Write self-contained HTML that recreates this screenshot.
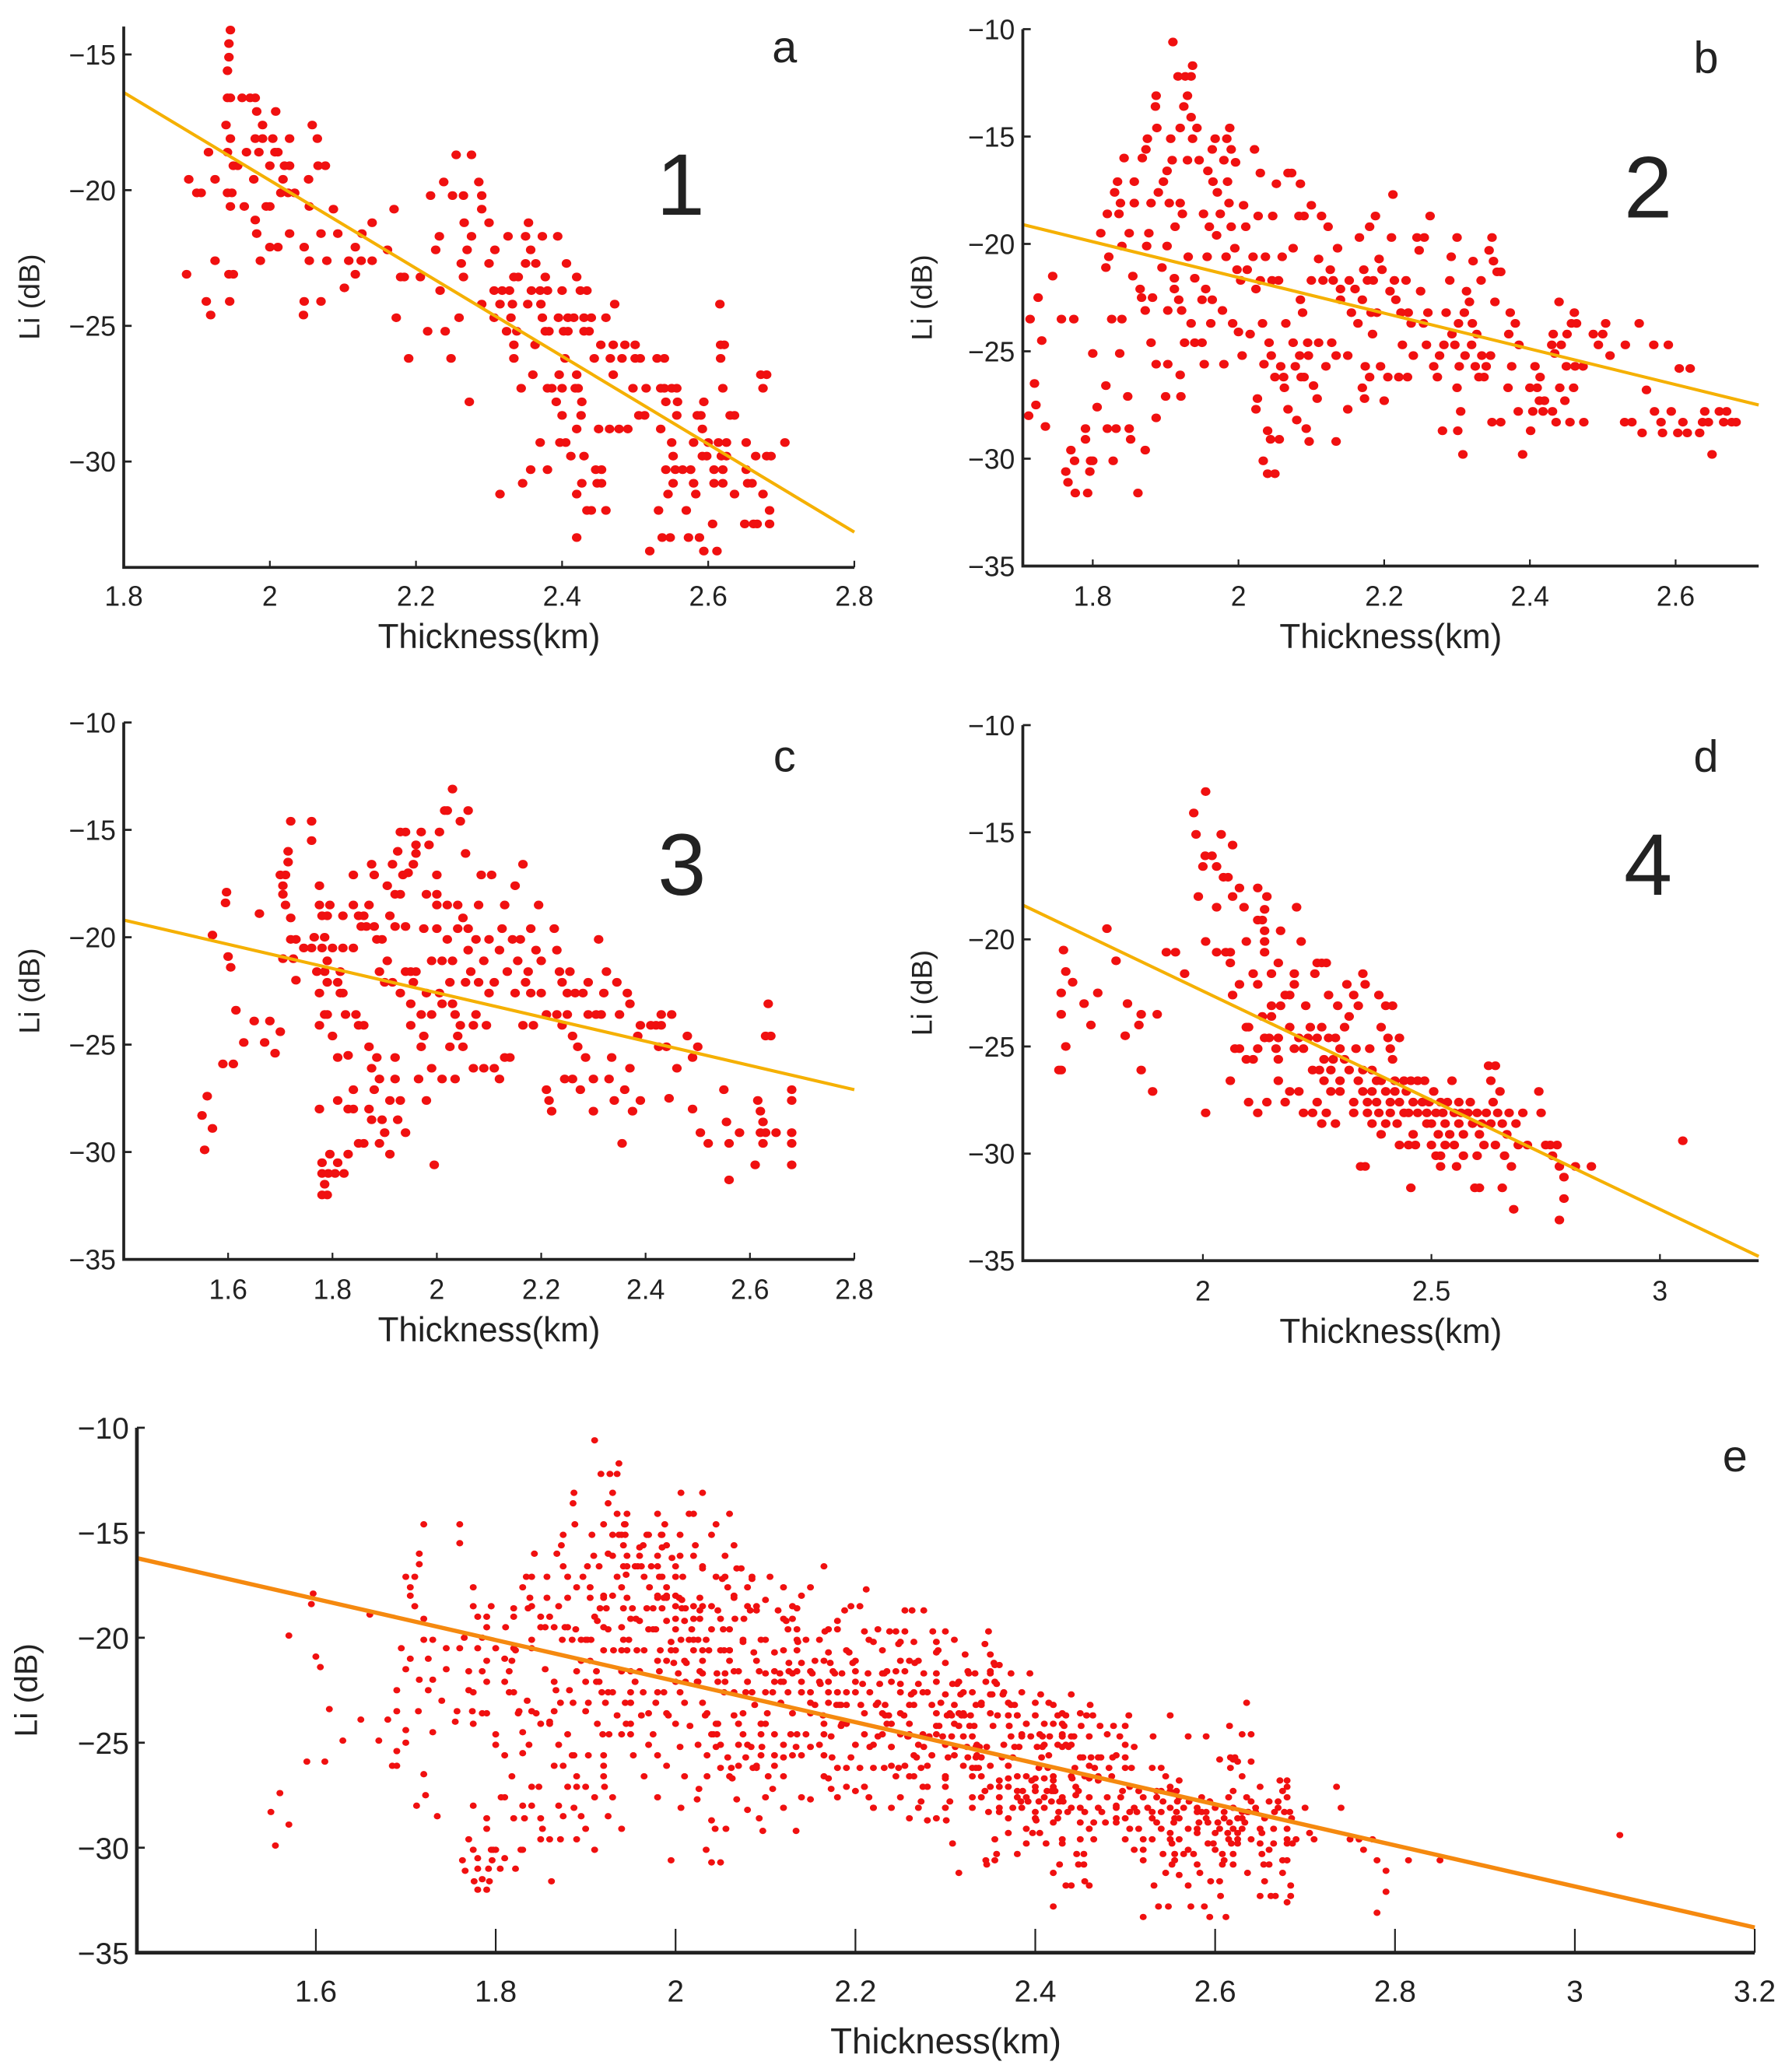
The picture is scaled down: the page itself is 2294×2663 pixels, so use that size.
<!DOCTYPE html>
<html><head><meta charset="utf-8"><style>
html,body{margin:0;padding:0;background:#fff}
svg{display:block}
text{font-family:"Liberation Sans",sans-serif;fill:#222}
</style></head><body>
<svg id="fig" width="2294" height="2663" viewBox="0 0 1356 1563" preserveAspectRatio="none" xmlns="http://www.w3.org/2000/svg"></svg>
<script>
const aPts=[[1.886,-23.1],[1.889,-19.6],[1.9,-20.1],[1.906,-20.1],[1.913,-24.1],[1.919,-24.6],[1.916,-18.6],[1.925,-19.6],[1.925,-22.6],[1.94,-17.6],[1.942,-16.6],[1.942,-15.6],[1.944,-15.1],[1.944,-14.6],[1.946,-14.1],[1.946,-16.6],[1.946,-18.1],[1.942,-18.6],[1.942,-20.1],[1.946,-20.6],[1.948,-20.1],[1.944,-23.1],[1.95,-23.1],[1.945,-24.1],[1.95,-19.1],[1.956,-19.1],[1.962,-16.6],[1.965,-20.6],[1.968,-18.6],[1.973,-16.6],[1.978,-19.6],[1.98,-16.6],[1.98,-21.1],[1.98,-18.1],[1.982,-17.1],[1.982,-21.6],[1.985,-18.6],[1.987,-22.6],[1.99,-17.6],[1.99,-18.1],[1.995,-20.6],[2.0,-22.1],[2.0,-20.6],[2.0,-19.1],[2.004,-18.1],[2.007,-18.6],[2.008,-17.1],[2.011,-18.6],[2.011,-22.1],[2.015,-20.1],[2.018,-19.6],[2.02,-19.1],[2.025,-20.1],[2.027,-19.1],[2.027,-18.1],[2.027,-21.6],[2.034,-20.1],[2.047,-22.1],[2.047,-24.1],[2.046,-24.6],[2.053,-19.6],[2.054,-20.6],[2.054,-22.6],[2.058,-17.6],[2.065,-18.1],[2.066,-19.1],[2.07,-21.6],[2.07,-24.1],[2.076,-19.1],[2.078,-22.6],[2.087,-20.7],[2.093,-21.6],[2.102,-23.6],[2.108,-22.6],[2.117,-22.1],[2.117,-23.1],[2.125,-22.6],[2.126,-21.6],[2.14,-22.6],[2.14,-21.2],[2.161,-22.2],[2.17,-20.7],[2.173,-24.7],[2.179,-23.2],[2.184,-23.2],[2.19,-26.2],[2.206,-23.2],[2.216,-25.2],[2.22,-20.2],[2.227,-22.2],[2.232,-21.7],[2.233,-23.7],[2.238,-19.7],[2.24,-25.2],[2.248,-26.2],[2.25,-20.2],[2.255,-18.7],[2.259,-24.7],[2.262,-22.7],[2.265,-20.2],[2.265,-23.2],[2.266,-21.2],[2.27,-22.2],[2.273,-27.8],[2.276,-21.7],[2.276,-18.7],[2.286,-19.7],[2.29,-20.2],[2.29,-20.7],[2.29,-24.2],[2.3,-21.2],[2.3,-22.7],[2.307,-23.7],[2.307,-24.7],[2.308,-22.2],[2.315,-31.2],[2.315,-24.2],[2.318,-23.7],[2.324,-25.2],[2.326,-21.7],[2.328,-23.7],[2.33,-24.7],[2.332,-24.2],[2.334,-23.2],[2.334,-25.7],[2.334,-26.2],[2.338,-25.2],[2.34,-23.2],[2.344,-27.3],[2.346,-30.8],[2.35,-22.7],[2.35,-21.7],[2.353,-24.2],[2.354,-21.2],[2.357,-30.3],[2.357,-22.2],[2.358,-23.7],[2.36,-26.8],[2.363,-25.7],[2.364,-22.7],[2.37,-29.3],[2.37,-23.7],[2.371,-24.2],[2.373,-21.7],[2.373,-24.7],[2.377,-23.2],[2.377,-25.2],[2.38,-27.3],[2.38,-30.3],[2.38,-23.7],[2.382,-25.2],[2.386,-27.3],[2.392,-27.8],[2.394,-21.7],[2.395,-24.7],[2.396,-26.8],[2.397,-29.3],[2.4,-23.7],[2.4,-27.3],[2.4,-28.3],[2.402,-25.2],[2.404,-26.2],[2.405,-29.3],[2.406,-22.7],[2.408,-24.7],[2.408,-25.2],[2.412,-29.8],[2.416,-24.7],[2.418,-27.3],[2.42,-26.8],[2.42,-32.8],[2.42,-23.2],[2.42,-31.2],[2.42,-28.8],[2.422,-27.3],[2.425,-23.7],[2.426,-28.3],[2.427,-27.8],[2.427,-30.8],[2.43,-24.7],[2.43,-25.2],[2.43,-29.8],[2.434,-23.7],[2.434,-31.8],[2.437,-25.2],[2.44,-31.8],[2.44,-24.7],[2.444,-26.2],[2.446,-30.3],[2.448,-30.8],[2.45,-28.8],[2.453,-25.7],[2.454,-30.8],[2.454,-30.3],[2.46,-31.8],[2.46,-24.7],[2.465,-28.8],[2.466,-26.2],[2.47,-26.8],[2.47,-25.7],[2.472,-24.2],[2.478,-28.8],[2.482,-26.2],[2.486,-25.7],[2.49,-28.8],[2.497,-27.3],[2.5,-25.7],[2.5,-26.2],[2.505,-28.3],[2.507,-26.2],[2.513,-28.3],[2.515,-27.3],[2.52,-33.3],[2.53,-26.2],[2.532,-31.8],[2.535,-28.8],[2.535,-27.3],[2.537,-32.8],[2.54,-26.2],[2.54,-27.3],[2.542,-27.8],[2.542,-30.3],[2.545,-31.2],[2.548,-32.8],[2.55,-27.3],[2.55,-29.3],[2.552,-29.8],[2.552,-30.8],[2.555,-30.3],[2.557,-27.3],[2.557,-28.3],[2.558,-27.8],[2.565,-30.3],[2.57,-31.8],[2.573,-32.8],[2.576,-30.3],[2.58,-29.3],[2.58,-30.8],[2.583,-31.2],[2.585,-28.3],[2.588,-32.8],[2.59,-28.3],[2.592,-28.8],[2.592,-29.8],[2.594,-27.8],[2.594,-33.3],[2.598,-29.8],[2.6,-29.3],[2.606,-32.3],[2.608,-30.3],[2.608,-30.8],[2.612,-33.3],[2.614,-29.3],[2.616,-24.2],[2.617,-26.2],[2.617,-25.7],[2.618,-29.8],[2.62,-30.3],[2.62,-30.8],[2.62,-27.3],[2.622,-25.7],[2.625,-29.3],[2.625,-29.8],[2.63,-28.3],[2.636,-28.3],[2.636,-31.2],[2.65,-32.3],[2.652,-29.3],[2.652,-30.3],[2.654,-30.8],[2.66,-30.8],[2.662,-32.3],[2.665,-29.8],[2.667,-32.3],[2.672,-26.8],[2.675,-31.2],[2.675,-27.3],[2.68,-26.8],[2.68,-29.8],[2.684,-31.8],[2.684,-32.3],[2.686,-29.8],[2.705,-29.3]];
const bPts=[[1.714,-23.5],[1.712,-28.0],[1.72,-26.5],[1.722,-27.5],[1.725,-22.5],[1.73,-24.5],[1.735,-28.5],[1.745,-21.5],[1.757,-23.5],[1.763,-30.6],[1.766,-31.1],[1.77,-29.6],[1.774,-23.5],[1.776,-31.6],[1.775,-30.1],[1.79,-28.6],[1.79,-29.1],[1.793,-31.6],[1.796,-30.6],[1.797,-30.1],[1.8,-30.1],[1.8,-25.1],[1.806,-27.6],[1.811,-19.5],[1.818,-21.1],[1.818,-26.6],[1.82,-28.6],[1.82,-18.6],[1.822,-20.6],[1.826,-23.5],[1.828,-30.1],[1.83,-17.6],[1.832,-28.6],[1.834,-17.1],[1.836,-18.6],[1.837,-25.1],[1.838,-18.1],[1.84,-23.5],[1.84,-20.1],[1.843,-16.0],[1.848,-27.1],[1.85,-28.6],[1.852,-29.1],[1.85,-19.5],[1.855,-21.5],[1.857,-17.1],[1.857,-18.1],[1.862,-31.6],[1.865,-22.1],[1.867,-22.5],[1.868,-16.0],[1.872,-29.6],[1.872,-23.1],[1.873,-15.6],[1.874,-20.1],[1.875,-15.1],[1.877,-19.5],[1.88,-18.1],[1.88,-24.6],[1.882,-22.5],[1.886,-13.6],[1.887,-13.1],[1.887,-25.6],[1.887,-28.1],[1.888,-14.6],[1.89,-17.6],[1.895,-21.1],[1.897,-17.1],[1.9,-27.1],[1.902,-16.6],[1.902,-20.1],[1.903,-23.1],[1.903,-25.6],[1.905,-18.1],[1.907,-15.1],[1.909,-16.1],[1.91,-10.6],[1.912,-21.6],[1.912,-22.1],[1.913,-19.2],[1.917,-12.2],[1.918,-22.6],[1.92,-26.1],[1.92,-18.1],[1.92,-14.6],[1.921,-27.1],[1.922,-23.1],[1.923,-18.6],[1.925,-13.6],[1.926,-24.6],[1.927,-12.2],[1.93,-16.1],[1.93,-13.1],[1.931,-20.6],[1.935,-23.7],[1.935,-12.2],[1.935,-14.1],[1.937,-15.1],[1.937,-11.7],[1.94,-21.6],[1.94,-24.6],[1.943,-14.6],[1.946,-16.1],[1.95,-24.6],[1.95,-22.6],[1.952,-18.6],[1.953,-25.6],[1.955,-22.1],[1.957,-20.6],[1.958,-16.6],[1.96,-19.2],[1.962,-23.7],[1.964,-15.6],[1.964,-22.6],[1.965,-17.1],[1.968,-15.1],[1.97,-19.6],[1.971,-17.6],[1.975,-18.6],[1.978,-23.1],[1.98,-25.6],[1.98,-16.1],[1.983,-20.6],[1.984,-15.1],[1.985,-17.1],[1.987,-18.1],[1.988,-14.6],[1.99,-19.2],[1.99,-15.6],[1.992,-23.7],[1.995,-20.2],[1.996,-16.2],[1.998,-21.2],[2.0,-24.1],[2.003,-21.7],[2.005,-25.2],[2.007,-18.2],[2.01,-19.2],[2.012,-21.2],[2.016,-24.2],[2.02,-20.6],[2.022,-15.6],[2.024,-22.1],[2.024,-27.7],[2.026,-27.2],[2.027,-18.7],[2.03,-21.7],[2.03,-16.7],[2.033,-23.7],[2.034,-30.1],[2.035,-25.6],[2.037,-20.6],[2.04,-30.7],[2.04,-28.7],[2.042,-24.6],[2.044,-29.1],[2.045,-25.2],[2.046,-21.7],[2.047,-18.7],[2.05,-26.2],[2.05,-30.7],[2.052,-17.2],[2.055,-21.7],[2.056,-29.1],[2.058,-25.7],[2.06,-20.6],[2.062,-26.2],[2.063,-26.7],[2.065,-23.7],[2.068,-16.7],[2.068,-27.7],[2.073,-16.7],[2.075,-20.2],[2.075,-24.6],[2.078,-25.7],[2.08,-28.2],[2.083,-18.7],[2.084,-25.2],[2.085,-17.2],[2.085,-22.6],[2.086,-26.2],[2.088,-23.2],[2.09,-18.7],[2.09,-26.2],[2.093,-28.6],[2.095,-24.6],[2.096,-25.2],[2.097,-29.2],[2.1,-21.7],[2.1,-18.2],[2.103,-26.6],[2.108,-27.2],[2.11,-24.6],[2.11,-20.7],[2.114,-18.7],[2.116,-21.7],[2.12,-25.7],[2.123,-19.2],[2.126,-21.2],[2.128,-24.6],[2.13,-21.7],[2.134,-29.2],[2.134,-25.2],[2.136,-20.2],[2.14,-22.1],[2.14,-22.6],[2.15,-27.7],[2.15,-25.2],[2.152,-21.7],[2.155,-23.2],[2.16,-22.1],[2.164,-23.7],[2.166,-19.7],[2.17,-22.6],[2.17,-26.7],[2.172,-21.2],[2.173,-27.2],[2.174,-25.7],[2.177,-21.7],[2.18,-19.2],[2.18,-26.2],[2.182,-23.2],[2.184,-24.2],[2.185,-21.7],[2.188,-18.7],[2.19,-23.2],[2.193,-20.7],[2.195,-25.7],[2.197,-21.2],[2.2,-27.3],[2.205,-26.2],[2.208,-22.2],[2.21,-19.7],[2.212,-17.7],[2.214,-21.7],[2.216,-22.6],[2.22,-26.2],[2.223,-23.2],[2.225,-24.7],[2.23,-21.7],[2.232,-26.2],[2.233,-23.2],[2.237,-23.7],[2.24,-25.2],[2.245,-19.7],[2.248,-20.3],[2.25,-22.2],[2.254,-23.7],[2.255,-19.7],[2.258,-24.7],[2.26,-23.2],[2.263,-18.7],[2.268,-25.7],[2.273,-26.2],[2.276,-25.2],[2.28,-28.7],[2.282,-24.7],[2.285,-23.2],[2.29,-21.7],[2.292,-20.6],[2.293,-24.2],[2.297,-24.7],[2.3,-26.7],[2.3,-19.7],[2.301,-28.7],[2.302,-23.7],[2.303,-25.7],[2.305,-27.8],[2.308,-29.8],[2.31,-23.2],[2.311,-25.2],[2.313,-22.2],[2.317,-22.7],[2.32,-24.7],[2.321,-23.7],[2.322,-20.8],[2.325,-25.7],[2.327,-24.2],[2.33,-26.2],[2.333,-21.7],[2.334,-25.2],[2.337,-26.2],[2.34,-25.7],[2.344,-20.3],[2.346,-25.2],[2.348,-19.7],[2.35,-20.8],[2.352,-22.7],[2.355,-21.3],[2.36,-21.3],[2.348,-28.3],[2.36,-28.3],[2.37,-26.7],[2.371,-24.2],[2.373,-23.2],[2.375,-25.7],[2.38,-23.7],[2.384,-27.8],[2.385,-24.7],[2.39,-29.8],[2.4,-26.7],[2.401,-28.7],[2.404,-27.8],[2.407,-25.7],[2.41,-26.7],[2.413,-27.3],[2.414,-26.2],[2.418,-27.8],[2.42,-27.3],[2.43,-24.7],[2.431,-27.8],[2.432,-24.2],[2.434,-25.1],[2.436,-28.3],[2.44,-22.7],[2.441,-26.7],[2.443,-24.7],[2.448,-27.3],[2.45,-25.7],[2.451,-24.2],[2.455,-28.3],[2.457,-23.7],[2.46,-26.7],[2.461,-23.2],[2.462,-25.7],[2.464,-23.7],[2.473,-25.7],[2.474,-28.3],[2.487,-24.2],[2.494,-24.7],[2.5,-24.2],[2.504,-23.7],[2.51,-25.2],[2.53,-28.3],[2.531,-24.7],[2.54,-28.3],[2.55,-23.7],[2.554,-28.8],[2.56,-26.8],[2.57,-24.7],[2.571,-27.8],[2.58,-28.3],[2.582,-28.8],[2.59,-24.7],[2.594,-27.8],[2.603,-28.8],[2.605,-25.8],[2.61,-28.3],[2.616,-28.8],[2.62,-25.8],[2.633,-28.8],[2.637,-28.3],[2.64,-27.8],[2.645,-28.3],[2.65,-29.8],[2.66,-27.8],[2.666,-28.3],[2.67,-27.8],[2.677,-28.3],[2.683,-28.3]];
const cPts=[[1.55,-28.3],[1.555,-29.9],[1.56,-27.4],[1.57,-28.9],[1.57,-19.9],[1.59,-25.9],[1.595,-18.4],[1.597,-17.9],[1.60,-20.9],[1.605,-21.4],[1.61,-25.9],[1.615,-23.4],[1.63,-24.9],[1.65,-23.9],[1.66,-18.9],[1.67,-24.9],[1.68,-23.9],[1.69,-25.4],[1.70,-17.1],[1.70,-24.4],[1.705,-17.6],[1.705,-18.0],[1.705,-21.0],[1.71,-17.1],[1.71,-18.5],[1.715,-16.5],[1.715,-16.0],[1.72,-14.6],[1.72,-20.1],[1.72,-19.1],[1.725,-21.0],[1.73,-20.1],[1.73,-22.0],[1.745,-20.5],[1.76,-14.6],[1.76,-20.5],[1.76,-15.5],[1.765,-20.0],[1.77,-21.6],[1.775,-28.0],[1.775,-17.6],[1.775,-22.6],[1.775,-24.1],[1.775,-18.5],[1.78,-19.0],[1.78,-32.0],[1.78,-31.0],[1.78,-30.5],[1.78,-20.5],[1.785,-21.6],[1.785,-20.0],[1.785,-23.6],[1.785,-31.5],[1.79,-19.0],[1.79,-21.1],[1.79,-32.0],[1.79,-22.1],[1.792,-31.0],[1.79,-23.6],[1.795,-30.1],[1.795,-18.5],[1.80,-20.5],[1.80,-24.6],[1.805,-31.0],[1.81,-27.6],[1.81,-22.1],[1.81,-25.6],[1.81,-30.5],[1.815,-21.6],[1.815,-22.6],[1.82,-22.6],[1.822,-31.0],[1.82,-20.5],[1.82,-19.0],[1.825,-23.6],[1.83,-30.1],[1.83,-28.0],[1.83,-25.5],[1.84,-28.0],[1.84,-17.1],[1.84,-20.5],[1.84,-18.5],[1.84,-27.1],[1.845,-23.6],[1.85,-19.0],[1.85,-24.1],[1.85,-29.6],[1.855,-19.5],[1.86,-24.1],[1.86,-19.0],[1.86,-29.6],[1.865,-19.5],[1.87,-28.0],[1.87,-25.1],[1.87,-18.5],[1.875,-28.5],[1.875,-26.1],[1.875,-16.6],[1.88,-17.1],[1.88,-19.5],[1.88,-27.1],[1.885,-20.1],[1.885,-25.6],[1.89,-29.6],[1.89,-21.6],[1.89,-26.6],[1.895,-20.1],[1.895,-28.5],[1.90,-22.1],[1.90,-29.1],[1.905,-17.6],[1.905,-21.1],[1.91,-19.0],[1.91,-30.1],[1.91,-27.6],[1.915,-22.1],[1.915,-16.6],[1.92,-26.6],[1.92,-18.0],[1.92,-25.6],[1.92,-19.5],[1.925,-28.5],[1.925,-16.0],[1.93,-22.6],[1.93,-27.6],[1.93,-18.0],[1.93,-15.1],[1.935,-17.1],[1.94,-21.6],[1.94,-29.1],[1.94,-19.5],[1.94,-15.1],[1.945,-17.0],[1.95,-21.6],[1.95,-24.1],[1.95,-23.1],[1.955,-22.1],[1.955,-16.6],[1.96,-21.6],[1.96,-15.7],[1.96,-16.1],[1.965,-26.6],[1.97,-23.6],[1.97,-15.1],[1.97,-25.1],[1.975,-24.6],[1.975,-19.6],[1.98,-27.6],[1.98,-22.6],[1.98,-18.0],[1.985,-15.7],[1.99,-26.1],[1.99,-21.1],[1.99,-23.6],[1.995,-30.6],[2.0,-19.6],[2.0,-17.1],[2.0,-18.0],[2.0,-18.5],[2.005,-22.6],[2.005,-15.1],[2.01,-26.6],[2.01,-23.1],[2.01,-21.1],[2.015,-14.1],[2.02,-20.1],[2.02,-18.5],[2.02,-14.1],[2.025,-25.1],[2.025,-22.1],[2.03,-13.1],[2.03,-23.1],[2.03,-21.1],[2.035,-26.6],[2.035,-23.6],[2.04,-24.6],[2.04,-19.6],[2.04,-18.5],[2.045,-24.1],[2.045,-14.6],[2.05,-25.1],[2.05,-19.1],[2.055,-16.1],[2.055,-22.1],[2.06,-19.6],[2.06,-14.1],[2.06,-20.6],[2.065,-21.6],[2.07,-24.1],[2.07,-26.1],[2.075,-23.6],[2.075,-20.1],[2.08,-18.5],[2.08,-22.1],[2.085,-17.1],[2.09,-26.1],[2.09,-21.1],[2.095,-24.1],[2.10,-22.6],[2.10,-20.1],[2.105,-17.1],[2.11,-26.1],[2.11,-22.1],[2.12,-20.6],[2.12,-26.6],[2.125,-19.6],[2.13,-25.6],[2.13,-18.5],[2.135,-21.6],[2.14,-25.6],[2.145,-20.1],[2.15,-17.6],[2.15,-22.6],[2.155,-21.1],[2.16,-20.1],[2.165,-16.6],[2.165,-24.1],[2.17,-22.1],[2.175,-21.6],[2.18,-19.6],[2.18,-22.6],[2.185,-24.1],[2.19,-20.6],[2.195,-18.5],[2.20,-21.1],[2.20,-22.6],[2.21,-23.6],[2.21,-27.1],[2.215,-27.6],[2.22,-28.1],[2.225,-19.6],[2.23,-20.6],[2.23,-23.6],[2.235,-21.6],[2.24,-24.1],[2.24,-22.1],[2.245,-26.6],[2.25,-23.6],[2.25,-22.6],[2.255,-21.6],[2.26,-26.6],[2.26,-24.6],[2.265,-22.6],[2.27,-25.1],[2.275,-27.1],[2.28,-22.6],[2.285,-25.6],[2.29,-23.6],[2.29,-22.1],[2.30,-28.1],[2.30,-26.6],[2.305,-23.6],[2.31,-20.1],[2.315,-23.6],[2.32,-22.6],[2.325,-21.6],[2.33,-26.6],[2.335,-25.6],[2.34,-27.6],[2.345,-22.1],[2.35,-23.6],[2.355,-29.6],[2.36,-27.1],[2.365,-22.6],[2.37,-26.1],[2.375,-28.1],[2.37,-23.1],[2.385,-24.6],[2.39,-27.6],[2.39,-24.1],[2.41,-24.1],[2.42,-24.1],[2.425,-25.1],[2.43,-23.6],[2.43,-24.1],[2.44,-25.1],[2.445,-27.5],[2.45,-23.6],[2.46,-26.1],[2.48,-24.6],[2.49,-28.0],[2.49,-25.6],[2.50,-25.1],[2.505,-29.1],[2.52,-29.6],[2.55,-27.1],[2.555,-28.6],[2.56,-29.6],[2.56,-31.3],[2.58,-29.1],[2.61,-30.6],[2.615,-27.6],[2.62,-28.1],[2.62,-29.1],[2.625,-29.6],[2.625,-28.6],[2.63,-29.1],[2.63,-24.6],[2.635,-23.1],[2.64,-24.6],[2.65,-29.1],[2.68,-29.1],[2.68,-27.6],[2.68,-27.1],[2.68,-29.6],[2.68,-30.6]];
const dPts=[[1.685,-26.1],[1.69,-26.1],[1.69,-22.5],[1.69,-23.5],[1.695,-20.5],[1.70,-25.0],[1.70,-21.5],[1.715,-22.0],[1.74,-23.0],[1.755,-24.0],[1.77,-22.5],[1.79,-19.5],[1.81,-21.0],[1.83,-24.5],[1.835,-23.0],[1.86,-24.0],[1.865,-23.5],[1.865,-26.1],[1.89,-27.1],[1.90,-23.5],[1.92,-20.6],[1.94,-20.6],[1.96,-21.6],[1.98,-14.1],[1.985,-15.1],[1.99,-18.0],[2.0,-16.6],[2.005,-16.1],[2.006,-13.1],[2.006,-20.1],[2.006,-28.1],[2.02,-16.1],[2.03,-16.6],[2.03,-18.5],[2.03,-20.6],[2.04,-15.1],[2.045,-17.1],[2.05,-20.6],[2.055,-17.1],[2.06,-20.6],[2.06,-21.1],[2.065,-15.6],[2.065,-18.0],[2.065,-22.6],[2.06,-26.6],[2.07,-25.1],[2.08,-17.6],[2.08,-22.1],[2.08,-25.1],[2.09,-18.5],[2.095,-20.1],[2.095,-24.1],[2.095,-25.6],[2.10,-24.1],[2.10,-27.6],[2.11,-21.6],[2.11,-25.6],[2.12,-17.6],[2.12,-19.1],[2.12,-22.1],[2.12,-25.1],[2.12,-28.1],[2.13,-19.1],[2.13,-23.6],[2.135,-18.6],[2.135,-19.6],[2.135,-20.1],[2.135,-20.6],[2.135,-24.6],[2.14,-18.0],[2.14,-27.6],[2.145,-24.6],[2.15,-21.6],[2.15,-23.1],[2.15,-23.6],[2.16,-25.1],[2.165,-21.1],[2.165,-24.6],[2.165,-25.6],[2.165,-26.6],[2.17,-19.6],[2.17,-23.1],[2.18,-22.6],[2.18,-27.6],[2.19,-22.6],[2.19,-24.1],[2.19,-27.1],[2.2,-21.6],[2.2,-22.1],[2.2,-25.1],[2.205,-18.5],[2.21,-24.6],[2.21,-27.1],[2.215,-20.1],[2.22,-25.1],[2.22,-28.1],[2.225,-23.1],[2.23,-24.6],[2.235,-24.1],[2.24,-26.1],[2.24,-28.1],[2.245,-21.6],[2.25,-21.1],[2.25,-24.6],[2.25,-27.6],[2.255,-26.1],[2.26,-21.1],[2.26,-24.1],[2.26,-28.6],[2.265,-25.6],[2.265,-26.6],[2.27,-21.1],[2.27,-28.1],[2.275,-22.6],[2.275,-24.6],[2.28,-26.1],[2.28,-27.1],[2.285,-25.6],[2.29,-28.6],[2.29,-24.6],[2.295,-23.1],[2.30,-25.1],[2.30,-26.6],[2.30,-27.1],[2.31,-25.6],[2.31,-24.1],[2.315,-22.1],[2.32,-23.6],[2.32,-26.1],[2.33,-22.6],[2.33,-27.6],[2.33,-28.1],[2.335,-25.1],[2.34,-23.1],[2.34,-26.6],[2.345,-30.6],[2.35,-21.6],[2.35,-26.1],[2.35,-27.1],[2.355,-22.1],[2.355,-30.6],[2.36,-27.6],[2.36,-28.1],[2.365,-25.1],[2.37,-26.1],[2.37,-27.1],[2.37,-28.6],[2.38,-26.6],[2.38,-27.6],[2.385,-22.6],[2.385,-28.1],[2.39,-24.1],[2.39,-29.1],[2.39,-26.6],[2.40,-27.1],[2.40,-23.1],[2.40,-28.6],[2.405,-24.6],[2.41,-25.1],[2.41,-27.6],[2.41,-28.1],[2.415,-23.1],[2.415,-25.6],[2.42,-26.6],[2.42,-27.1],[2.425,-28.6],[2.43,-24.6],[2.43,-27.6],[2.43,-29.6],[2.44,-26.6],[2.44,-28.1],[2.445,-27.1],[2.45,-28.1],[2.45,-29.6],[2.455,-31.6],[2.455,-26.6],[2.46,-27.6],[2.46,-29.1],[2.465,-29.6],[2.47,-26.6],[2.47,-28.1],[2.48,-27.6],[2.485,-26.6],[2.49,-28.1],[2.49,-28.6],[2.495,-27.6],[2.50,-28.6],[2.50,-29.6],[2.505,-27.1],[2.51,-28.1],[2.51,-30.1],[2.515,-29.1],[2.52,-27.6],[2.52,-30.1],[2.52,-30.6],[2.525,-28.1],[2.53,-29.6],[2.53,-28.6],[2.535,-27.6],[2.54,-29.1],[2.545,-26.6],[2.55,-28.1],[2.55,-29.6],[2.555,-30.6],[2.56,-27.6],[2.56,-28.6],[2.565,-28.1],[2.57,-30.1],[2.57,-29.1],[2.58,-28.1],[2.585,-27.6],[2.59,-28.6],[2.595,-31.6],[2.6,-28.1],[2.6,-30.1],[2.605,-29.1],[2.605,-31.6],[2.61,-28.6],[2.615,-29.6],[2.62,-28.1],[2.625,-25.9],[2.63,-26.6],[2.63,-28.6],[2.635,-27.6],[2.64,-29.6],[2.64,-25.9],[2.645,-28.1],[2.65,-27.1],[2.655,-31.6],[2.655,-28.6],[2.66,-30.1],[2.665,-29.1],[2.67,-28.1],[2.675,-30.6],[2.68,-32.6],[2.685,-28.6],[2.69,-29.6],[2.70,-28.1],[2.71,-29.6],[2.735,-27.1],[2.74,-28.1],[2.75,-29.6],[2.76,-29.6],[2.765,-30.1],[2.775,-29.6],[2.78,-30.6],[2.78,-33.1],[2.79,-31.1],[2.79,-32.1],[2.815,-30.6],[2.85,-30.6],[3.05,-29.4]];
const aFit=[[1.8,-16.4],[2.8,-32.6]];
const bFit=[[1.704,-19.1],[2.714,-27.5]];
const cFit=[[1.4,-19.2],[2.8,-27.1]];
const dFit=[[1.606,-18.4],[3.216,-34.8]];
const eFit=[[1.4,-16.2],[3.2,-33.8]];
const abXTicks=[1.8,2,2.2,2.4,2.6,2.8];
const bXTicks=[1.8,2,2.2,2.4,2.6];
const cXTicks=[1.6,1.8,2,2.2,2.4,2.6,2.8];
const dXTicks=[2,2.5,3];
const eXTicks=[1.6,1.8,2,2.2,2.4,2.6,2.8,3,3.2];
const aYTicks=[-15,-20,-25,-30];
const fullYTicks=[-10,-15,-20,-25,-30,-35];

const svg=document.getElementById('fig');
const NS='http://www.w3.org/2000/svg';
function mk(tag,attrs,parent){const e=document.createElementNS(NS,tag);for(const k in attrs)e.setAttribute(k,attrs[k]);(parent||svg).appendChild(e);return e;}
function fmt(v){return (v<0?'\u2212':'')+String(Math.abs(v));}

function panel(p){
  const g=mk('g',{});
  
  
  const sx=v=>p.L+(v-p.x0)/(p.x1-p.x0)*(p.R-p.L);
  const sy=v=>p.T+(p.y0-v)/(p.y0-p.y1)*(p.B-p.T);
  const pg=mk('g',{fill:'#f01010'},g);
  
  
  p.pts.forEach(pt=>{
    const c=mk('ellipse',{cx:sx(pt[0]),cy:sy(pt[1]),rx:p.r*1.1,ry:p.r},pg);
    
    
  });
  const ln=mk('line',{x1:sx(p.fit[0][0]),y1:sy(p.fit[0][1]),x2:sx(p.fit[1][0]),y2:sy(p.fit[1][1]),stroke:p.fitColor,'stroke-width':p.fitW},g);
  
  
  const ax=mk('path',{d:`M${p.L},${p.T}V${p.B}H${p.R}`,fill:'none',stroke:'#222','stroke-width':p.axW},g);
  
  
  p.xt.forEach(v=>{
    const x=sx(v);
    mk('line',{x1:x,y1:p.B,x2:x,y2:p.B-p.tickL,stroke:'#222','stroke-width':1.3},g);
    const t=mk('text',{x:x,y:p.B+p.xlabOff,'text-anchor':'middle','font-size':p.fs},g);
    t.textContent=String(v);
    
    
  });
  p.yt.forEach(v=>{
    const y=sy(v);
    mk('line',{x1:p.L,y1:y,x2:p.L+6,y2:y,stroke:'#222','stroke-width':1.6},g);
    const t=mk('text',{x:p.L-6,y:y+p.fs*0.36,'text-anchor':'end','font-size':p.fs},g);
    t.textContent=fmt(v);
    
    
  });
  const xt=mk('text',{x:(p.L+p.R)/2,y:p.B+p.titleOff,'text-anchor':'middle','font-size':p.tfs},g);
  xt.textContent='Thickness(km)';
  
  
  const yc=(p.T+p.B)/2;
  const yt=mk('text',{x:p.ylx,y:yc,'text-anchor':'middle','font-size':p.fs+1,transform:`rotate(-90 ${p.ylx} ${yc})`},g);
  yt.textContent='Li (dB)';
  
  
  const lt=mk('text',{x:p.letter[0],y:p.letter[1],'text-anchor':'middle','font-size':34},g);
  lt.textContent=p.letter[2];
  
  
  if(p.num){
    const n=mk('text',{x:p.num[0],y:p.num[1],'text-anchor':'middle','font-size':66},g);
    n.textContent=p.num[2];
    
    
  }
}
const Y='#f5b000';
panel({name:'panel-a',L:94,R:649,T:20,B:428,x0:1.8,x1:2.8,y0:-13.97,y1:-33.9,pts:aPts,fit:aFit,xt:abXTicks,yt:aYTicks,r:3.3,fitColor:Y,fitW:2.4,axW:2.2,tickL:5,fs:21,tfs:26,xlabOff:29,titleOff:61,ylx:30,letter:[596,47,'a'],num:[517,162,'1']});
panel({name:'panel-b',L:777,R:1336,T:22,B:427,x0:1.704,x1:2.714,y0:-10,y1:-35,pts:bPts,fit:bFit,xt:bXTicks,yt:fullYTicks,r:3.3,fitColor:Y,fitW:2.4,axW:2.2,tickL:5,fs:21,tfs:26,xlabOff:30,titleOff:62,ylx:708,letter:[1296,55,'b'],num:[1252,164,'2']});
panel({name:'panel-c',L:94,R:649,T:545,B:950,x0:1.4,x1:2.8,y0:-10,y1:-35,pts:cPts,fit:cFit,xt:cXTicks,yt:fullYTicks,r:3.3,fitColor:Y,fitW:2.4,axW:2.2,tickL:5,fs:21,tfs:26,xlabOff:30,titleOff:62,ylx:30,letter:[596,582,'c'],num:[518,675,'3']});
panel({name:'panel-d',L:777,R:1336,T:547,B:951,x0:1.606,x1:3.216,y0:-10,y1:-35,pts:dPts,fit:dFit,xt:dXTicks,yt:fullYTicks,r:3.3,fitColor:Y,fitW:2.4,axW:2.2,tickL:5,fs:21,tfs:26,xlabOff:30,titleOff:62,ylx:708,letter:[1296,582,'d'],num:[1252,675,'4']});
const ePts=aPts.concat(bPts,cPts,dPts);
panel({name:'panel-e',L:104,R:1333,T:1077,B:1473,x0:1.401,x1:3.2,y0:-10,y1:-35,pts:ePts,fit:eFit,xt:eXTicks,yt:fullYTicks,r:2.4,fitColor:'#f5890f',fitW:3.2,axW:2.8,tickL:18,fs:23,tfs:27,xlabOff:37,titleOff:76,ylx:28,letter:[1318,1110,'e']});
</script>
</body></html>
